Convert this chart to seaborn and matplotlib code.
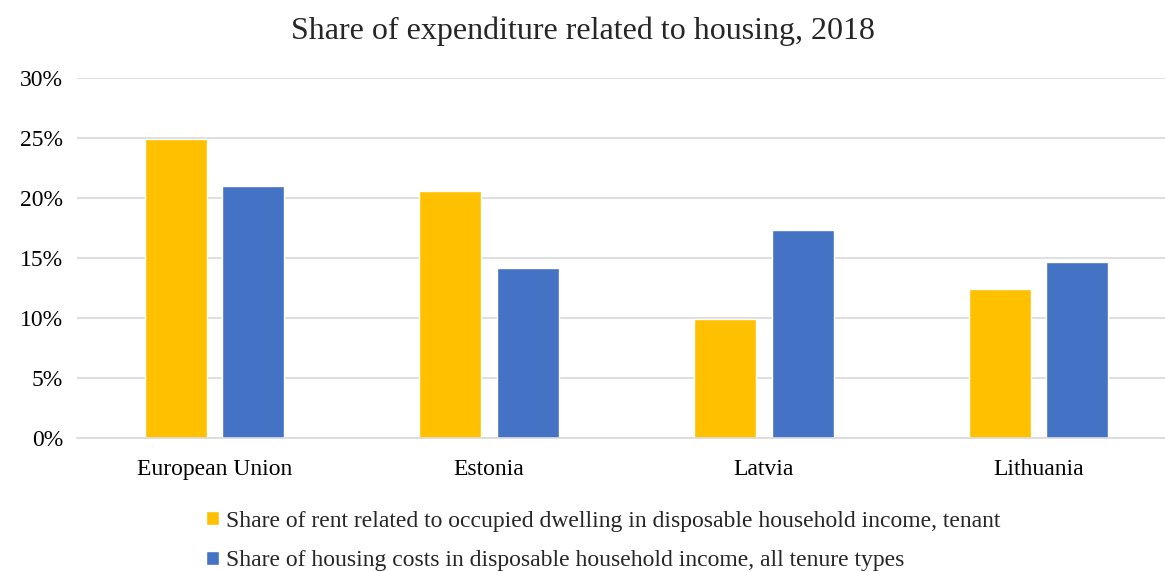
import seaborn as sns
import matplotlib.pyplot as plt
import matplotlib.ticker as mtick
import pandas as pd

# chart values
countries = ['European Union', 'Estonia', 'Latvia', 'Lithuania']
rent_share = [24.9, 20.6, 9.9, 12.4]
housing_share = [21.0, 14.2, 17.3, 14.7]
series_names = ['Share of rent related to occupied dwelling in disposable household income, tenant',
                'Share of housing costs in disposable household income, all tenure types']
colors = ['#FFC000', '#4472C4']

df = pd.DataFrame({
    'country': countries * 2,
    'value': [v / 100 for v in rent_share + housing_share],
    'series': [series_names[0]] * 4 + [series_names[1]] * 4,
})

sns.set_style('white')
plt.rcParams['font.family'] = ['Liberation Serif', 'DejaVu Serif']

fig = plt.figure(figsize=(11.65, 5.71), dpi=100)
ax = fig.add_axes([77 / 1165, 133 / 571, 1099 / 1165, 360 / 571])

sns.barplot(data=df, x='country', y='value', hue='series', palette=colors,
            width=0.565, gap=0.2, ax=ax, legend=True, saturation=1)

ax.set_ylim(0, 0.30)
ax.set_xlim(-0.5, 3.5)
ax.set_yticks([0, 0.05, 0.10, 0.15, 0.20, 0.25, 0.30])
ax.yaxis.set_major_formatter(mtick.PercentFormatter(1.0, decimals=0))
ax.grid(axis='y', color='#D9D9D9', linewidth=1.2)
ax.set_axisbelow(True)
for s in ['top', 'right', 'left']:
    ax.spines[s].set_visible(False)
ax.spines['bottom'].set_color('#D9D9D9')
ax.spines['bottom'].set_linewidth(1.2)
ax.tick_params(axis='both', length=0, labelsize=17, colors='black')
ax.tick_params(axis='y', pad=10)
ax.tick_params(axis='x', pad=15)
ax.set_xlabel('')
ax.set_ylabel('')

fig.text(0.5, 1 - 31 / 571, 'Share of expenditure related to housing, 2018',
         fontsize=23, ha='center', va='center')

handles, labels = ax.get_legend_handles_labels()
ax.legend_.remove()
fig.legend(handles, labels, loc='upper center', bbox_to_anchor=(0.518, 0.143),
           frameon=False, ncol=1, fontsize=17, handlelength=0.55, handleheight=0.55,
           handletextpad=0.3, labelspacing=0.8)

plt.savefig('out.png', dpi=100)
